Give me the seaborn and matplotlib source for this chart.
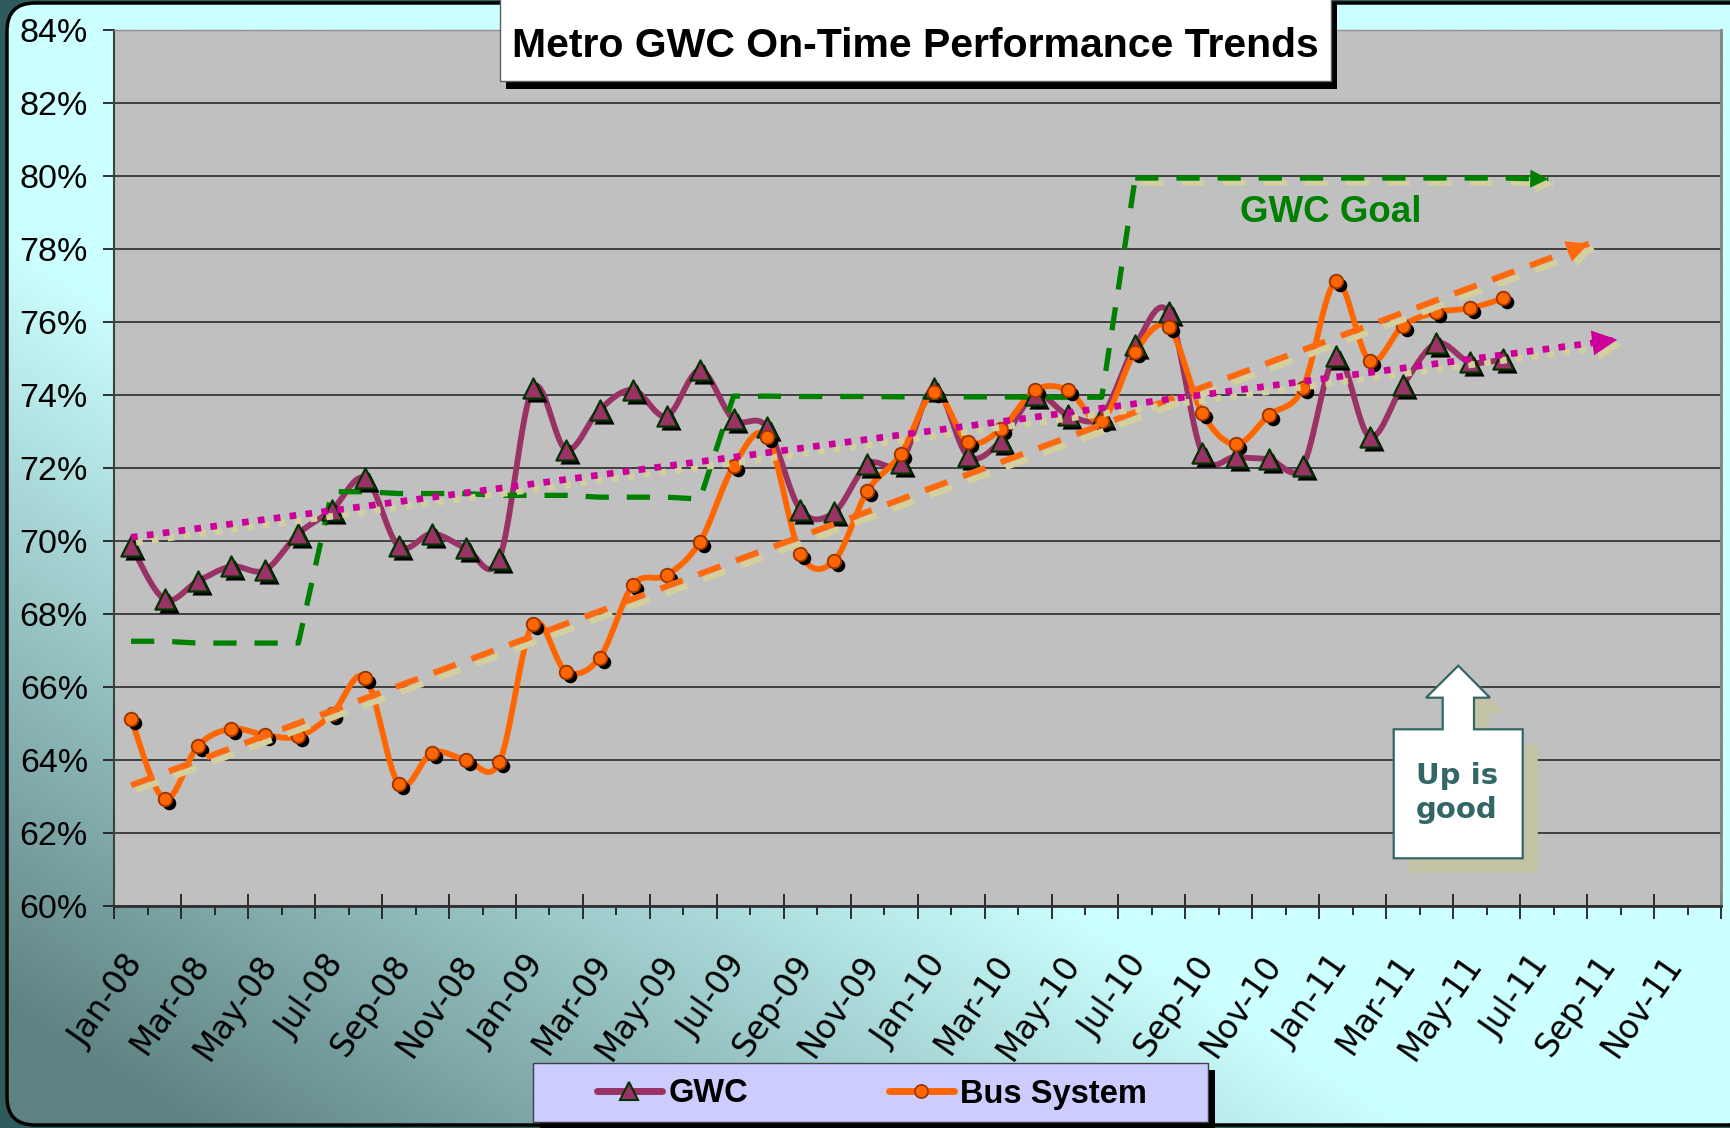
import numpy as np
import pandas as pd
import matplotlib
matplotlib.use("Agg")
import matplotlib.pyplot as plt
import seaborn as sns
from matplotlib.patches import Rectangle, Polygon, FancyBboxPatch
from matplotlib.lines import Line2D
from matplotlib.font_manager import FontProperties
from matplotlib import transforms as mtransforms
import matplotlib.patheffects as pe

# ---- data (percent) ----
months = ["Jan-08", "Feb-08", "Mar-08", "Apr-08", "May-08", "Jun-08",
          "Jul-08", "Aug-08", "Sep-08", "Oct-08", "Nov-08", "Dec-08",
          "Jan-09", "Feb-09", "Mar-09", "Apr-09", "May-09", "Jun-09",
          "Jul-09", "Aug-09", "Sep-09", "Oct-09", "Nov-09", "Dec-09",
          "Jan-10", "Feb-10", "Mar-10", "Apr-10", "May-10", "Jun-10",
          "Jul-10", "Aug-10", "Sep-10", "Oct-10", "Nov-10", "Dec-10",
          "Jan-11", "Feb-11", "Mar-11", "Apr-11", "May-11", "Jun-11"]

gwc = [69.87, 68.40, 68.90, 69.30, 69.20, 70.20, 70.85, 71.72, 69.85, 70.20, 69.80, 69.50,
       74.18, 72.50, 73.60, 74.14, 73.42, 74.68, 73.33, 73.12, 70.85, 70.78, 72.10, 72.15,
       74.20, 72.33, 72.75, 74.00, 73.45, 73.43, 75.36, 76.27, 72.40, 72.30, 72.24, 72.05,
       75.08, 72.86, 74.27, 75.42, 74.90, 74.98]

bus = [65.12, 62.92, 64.38, 64.85, 64.68, 64.64, 65.25, 66.25, 63.33, 64.20, 64.00, 63.93,
       67.72, 66.42, 66.80, 68.80, 69.06, 69.98, 72.05, 72.86, 69.65, 69.45, 71.37, 72.38,
       74.07, 72.72, 73.07, 74.13, 74.13, 73.30, 75.19, 75.86, 73.52, 72.65, 73.45, 74.18,
       77.12, 74.94, 75.90, 76.27, 76.38, 76.65]

goal = [67.25, 67.25, 67.20, 67.20, 67.20, 67.20,
        71.35, 71.35, 71.30, 71.30, 71.30, 71.25, 71.25, 71.25, 71.20, 71.20, 71.20, 71.15,
        73.97, 73.97, 73.96, 73.96, 73.96, 73.95, 73.95, 73.95, 73.95, 73.94, 73.94, 73.94,
        79.95, 79.95, 79.95, 79.95, 79.95, 79.95, 79.95, 79.95, 79.95, 79.95, 79.95, 79.95]
goal_arrow_end = (42.84, 79.92)

# linear trend lines (start / arrow tip), month index on x
gwc_trend_x = [0.5, 44.9]
gwc_trend_y = [70.10, 75.52]
bus_trend_x = [0.5, 44.05]
bus_trend_y = [63.30, 78.15]

tick_labels = ["Jan-08", "Mar-08", "May-08", "Jul-08", "Sep-08", "Nov-08",
               "Jan-09", "Mar-09", "May-09", "Jul-09", "Sep-09", "Nov-09",
               "Jan-10", "Mar-10", "May-10", "Jul-10", "Sep-10", "Nov-10",
               "Jan-11", "Mar-11", "May-11", "Jul-11", "Sep-11", "Nov-11"]

df = pd.DataFrame({"month": months, "gwc": gwc, "bus": bus, "goal": goal})
df["pos"] = np.arange(len(df)) + 0.5

GWC_C = "#993366"
BUS_C = "#FF6600"
GOAL_C = "#008000"
TREND_M = "#CC0099"
BEIGE = "#D3CF9F"


def smooth(xs, ys, n=16):
    # excel-like smoothed line (catmull-rom bezier through the points)
    pts = np.column_stack([xs, ys]).astype(float)
    p = np.vstack([pts[0], pts, pts[-1]])
    t = np.linspace(0, 1, n, endpoint=False)[:, None]
    out = []
    for i in range(1, len(p) - 2):
        p0, p1, p2, p3 = p[i - 1], p[i], p[i + 1], p[i + 2]
        c1 = p1 + (p2 - p0) / 6
        c2 = p2 - (p3 - p1) / 6
        out.append((1 - t) ** 3 * p1 + 3 * (1 - t) ** 2 * t * c1 + 3 * (1 - t) * t ** 2 * c2 + t ** 3 * p2)
    out.append(pts[-1:])
    return np.vstack(out)


def style_last(ax, width, dashes=None, effects=None):
    ln = ax.lines[-1]
    ln.set_linewidth(width)
    if dashes is not None:
        ln.set_dashes(dashes)
    if effects is not None:
        ln.set_path_effects(effects)
    return ln


W, H = 1731, 1128
fig = plt.figure(figsize=(W / 100, H / 100), dpi=100)
fig.patch.set_facecolor("#2E5C5C")

# ---- background gradient with rounded frame ----
bg = fig.add_axes([0, 0, 1, 1], zorder=-2)
yy, xx = np.mgrid[0:1:300j, 0:1:400j]
tt = np.clip(1.3 - 1.45 * yy + 1.4 * xx, 0, 1)
dark = np.array([0x5E, 0x82, 0x82]) / 255
light = np.array([0xCC, 0xFF, 0xFF]) / 255
img = dark + (light - dark) * tt[..., None]
im = bg.imshow(img, extent=(0, W, H, 0), aspect="auto", interpolation="bilinear")
bg.set_xlim(0, W)
bg.set_ylim(H, 0)
frame = FancyBboxPatch((7, 3), W + 20, 1122, boxstyle="round,pad=0,rounding_size=28",
                       fc="none", ec="black", lw=2.5)
bg.add_patch(frame)
im.set_clip_path(frame)
bg.axis("off")

# ---- main plot ----
ax = fig.add_axes([114.3 / W, 1 - 905.7 / H, (1721 - 114.3) / W, (905.7 - 30.3) / H])
ax.set_facecolor("#C0C0C0")
ax.set_axisbelow(True)
ax.yaxis.grid(True, color="#2a2a2a", lw=1.2)

shadow_fx = [pe.SimpleLineShadow(offset=(3.6, -3.6), shadow_color=BEIGE, alpha=1), pe.Normal()]

# goal line (step changes), last part carries a shadow
sns.lineplot(x=df["pos"][:31], y=df["goal"][:31], color=GOAL_C, ax=ax,
             sort=False, estimator=None, zorder=4.2)
style_last(ax, 3.8, [4.4, 3.4])
sns.lineplot(x=list(df["pos"][30:]) + [goal_arrow_end[0]], y=list(df["goal"][30:]) + [goal_arrow_end[1]],
             color=GOAL_C, ax=ax, sort=False, estimator=None, zorder=4.2)
style_last(ax, 3.8, [4.4, 3.4], shadow_fx)

# series lines
g_s = smooth(df["pos"], df["gwc"])
sns.lineplot(x=g_s[:, 0], y=g_s[:, 1], color=GWC_C, ax=ax, sort=False, estimator=None, zorder=4)
style_last(ax, 4.2)
b_s = smooth(df["pos"], df["bus"])
sns.lineplot(x=b_s[:, 0], y=b_s[:, 1], color=BUS_C, ax=ax, sort=False, estimator=None, zorder=4)
style_last(ax, 4.2)

# markers with black drop shadow
shadow_tr = mtransforms.offset_copy(ax.transData, fig=fig, x=4, y=-4, units="dots")
sns.scatterplot(x=df["pos"], y=df["gwc"], marker="^", s=210, color="black", linewidth=0,
                transform=shadow_tr, ax=ax, zorder=4.5, legend=False)
sns.scatterplot(x=df["pos"], y=df["bus"], marker="o", s=95, color="black", linewidth=0,
                transform=shadow_tr, ax=ax, zorder=4.5, legend=False)
sns.scatterplot(x=df["pos"], y=df["gwc"], marker="^", s=210, color=GWC_C, edgecolor="#003300",
                linewidth=1.6, ax=ax, zorder=5, legend=False)
sns.scatterplot(x=df["pos"], y=df["bus"], marker="o", s=95, color=BUS_C, edgecolor="#993300",
                linewidth=1.3, ax=ax, zorder=5, legend=False)

# trend lines
sns.lineplot(x=bus_trend_x, y=bus_trend_y, color="#FF6A10", ax=ax, sort=False,
             estimator=None, zorder=6)
style_last(ax, 4.4, [3.9, 2.7], shadow_fx)
sns.lineplot(x=gwc_trend_x, y=gwc_trend_y, color=TREND_M, ax=ax, sort=False,
             estimator=None, zorder=6)
style_last(ax, 4.8, [1, 1.4], shadow_fx)


def arrow_head(xs, ys, color, hl, hw):
    dx = (xs[-1] - xs[0]) * 0.002
    dy = (ys[-1] - ys[0]) * 0.002
    a = ax.annotate("", xy=(xs[-1], ys[-1]), xytext=(xs[-1] - dx, ys[-1] - dy), zorder=6,
                    arrowprops=dict(arrowstyle=f"-|>,head_length={hl},head_width={hw}",
                                    color=color, lw=0, shrinkA=0, shrinkB=0, mutation_scale=10))
    a.arrow_patch.set_path_effects([pe.SimplePatchShadow(offset=(3.6, -3.6), shadow_rgbFace=BEIGE, alpha=1),
                                    pe.Normal()])


arrow_head([df["pos"].iloc[-1], goal_arrow_end[0]], [goal[-1], goal_arrow_end[1]], GOAL_C, 1.3, 0.65)
arrow_head(bus_trend_x, bus_trend_y, "#FF6A10", 1.6, 0.78)
arrow_head(gwc_trend_x, gwc_trend_y, TREND_M, 1.8, 0.9)

# axes, ticks
ax.set_xlim(0, 48)
ax.set_ylim(60, 84)
ax.set_yticks(np.arange(60, 85, 2))
ax.set_yticklabels([f"{v}%" for v in range(60, 85, 2)], fontsize=24.5, family="Liberation Sans")
ax.set_xticks(np.arange(0, 49, 2))
ax.set_xticks(np.arange(1, 48, 2), minor=True)
ax.set_xticklabels(tick_labels + [""], fontsize=23.5, family="DejaVu Sans", rotation=55,
                   ha="right", va="center", rotation_mode="anchor")
ax.tick_params(axis="x", which="major", direction="inout", length=18, width=1.3, color="#202020", pad=29)
ax.tick_params(axis="x", which="minor", direction="out", length=6.5, width=1.3, color="#202020")
ax.tick_params(axis="y", which="major", direction="out", length=8, width=1.3, color="#202020", pad=11)
ax.set_xlabel("")
ax.set_ylabel("")
ax.spines["top"].set_color("#909090")
ax.spines["top"].set_linewidth(1)
ax.spines["right"].set_color("#808080")
ax.spines["right"].set_linewidth(2)
ax.spines["left"].set_color("#404040")
ax.spines["left"].set_linewidth(1.5)
ax.spines["bottom"].set_color("#303030")
ax.spines["bottom"].set_linewidth(2)
for lbl in ax.get_xticklabels():
    lbl.set_transform(lbl.get_transform() + mtransforms.ScaledTranslation(0.22, 0, fig.dpi_scale_trans))

# ---- overlay: title box, annotations, legend ----
ov = fig.add_axes([0, 0, 1, 1], zorder=10)
ov.set_xlim(0, W)
ov.set_ylim(H, 0)
ov.axis("off")

ov.add_patch(Rectangle((506.5, 3), 830.5, 86, fc="black", ec="none", zorder=1))
ov.add_patch(Rectangle((500.5, -5), 830.5, 86, fc="white", ec="#606060", lw=1, zorder=2))
ov.text(915, 57, "Metro GWC On-Time Performance Trends", ha="center", va="baseline",
        fontsize=29.5, weight="bold", family="Liberation Sans", zorder=3)

ov.text(1331, 221.7, "GWC Goal", ha="center", va="baseline", fontsize=26.5, weight="bold",
        color=GOAL_C, family="Liberation Sans", zorder=3)

up_shape = np.array([(1393.7, 729.3), (1442.7, 729.3), (1442.7, 697.7), (1426, 697.7),
                     (1458.3, 665.7), (1490, 697.7), (1474, 697.7), (1474, 729.3),
                     (1522.7, 729.3), (1522.7, 858.3), (1393.7, 858.3)])
ov.add_patch(Polygon(up_shape + [15, 15], closed=True, fc="#C4C3A5", ec="none", zorder=1))
ov.add_patch(Polygon(up_shape, closed=True, fc="white", ec="#336666", lw=1.6, zorder=2))
ov.text(1457, 793, "Up is\ngood", ha="center", va="center", fontsize=21, weight="bold",
        color="#336666", family="DejaVu Sans", linespacing=1.3, zorder=3)

ov.add_patch(Rectangle((539.6, 1070.3), 675, 60, fc="black", ec="none", zorder=1))
ov.add_patch(Rectangle((532.6, 1063.3), 675, 58.4, fc="#CCCCFF", ec="#404040", lw=1, zorder=2))
h1 = Line2D([], [], color=GWC_C, lw=5, marker="^", ms=13, mfc=GWC_C, mec="#003300", mew=1.5,
            solid_capstyle="round")
h2 = Line2D([], [], color=BUS_C, lw=5, marker="o", ms=9.5, mfc=BUS_C, mec="#993300", mew=1.2,
            solid_capstyle="round")
ov.legend([h1, h2], ["GWC", "Bus System"], loc="center", bbox_to_anchor=(872, 1094),
          bbox_transform=ov.transData, ncol=2, frameon=False,
          prop=FontProperties(family="Liberation Sans", weight="bold", size=23.5),
          handlelength=2.0, handletextpad=0.2, columnspacing=4.3, borderpad=0)

fig.savefig("out.png", dpi=100, facecolor=fig.get_facecolor())
